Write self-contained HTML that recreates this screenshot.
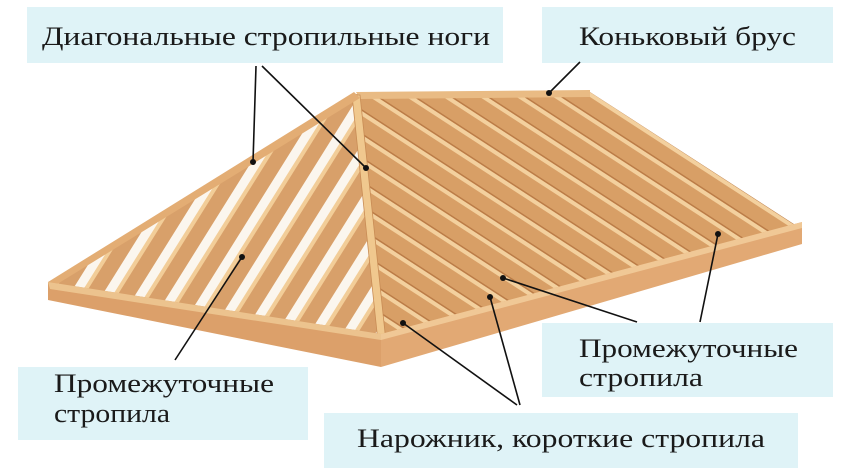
<!DOCTYPE html>
<html><head><meta charset="utf-8"><style>
html,body{margin:0;padding:0;background:#fff;width:864px;height:475px;overflow:hidden}
svg{display:block}
text{font-family:"Liberation Serif",serif;font-size:26px;fill:#1a1a1a}
</style></head><body>
<svg width="864" height="475" viewBox="0 0 864 475" xmlns="http://www.w3.org/2000/svg">
<defs>
<pattern id="rp" patternUnits="userSpaceOnUse" width="20" height="400" patternTransform="rotate(-57)">
<rect width="20" height="400" fill="#d89f66"/>
<rect x="0" width="4" height="400" fill="#f3d09e"/>
<rect x="4" width="1.5" height="400" fill="#bb7c47"/>
</pattern>
<pattern id="lp" patternUnits="userSpaceOnUse" width="28" height="400" patternTransform="rotate(32)">
<rect width="28" height="400" fill="#d8a06a"/>
<rect x="0" width="4" height="400" fill="#f2cd98"/>
<rect x="19" width="9" height="400" fill="#fbf6ee"/>
</pattern>
</defs>
<polygon points="356,94 590,92 800,228 381,340" fill="url(#rp)"/>
<polygon points="356,94 381,340 50,283" fill="url(#lp)"/>
<polygon points="356,92 590,90 590,97 360,99" fill="#e9bb84"/>
<polygon points="352,95 360,95 386,342 378,342" fill="#f0c88e" stroke="#c88c55" stroke-width="0.8"/>
<polygon points="354,92 360,98 54,286 48,282" fill="#e3ad74"/>
<polygon points="48,282 381,334 381,367 48,300" fill="#dca06a"/>
<polygon points="48,282 381,334 381,340 50,289" fill="#ecc38e"/>
<polygon points="381,334 802,222 802,244 381,367" fill="#e2a974"/>
<polygon points="381,334 802,222 802,228 381,340" fill="#f0c896"/>
<g fill="#dff3f7">
<rect x="27" y="7" width="476" height="56"/>
<rect x="542" y="7" width="291" height="56"/>
<rect x="18" y="367" width="290" height="73"/>
<rect x="542" y="323" width="291" height="74"/>
<rect x="324" y="413" width="474" height="55"/>
</g>
<text x="42" y="45" textLength="448" lengthAdjust="spacingAndGlyphs">Диагональные стропильные ноги</text>
<text x="579" y="45" textLength="217" lengthAdjust="spacingAndGlyphs">Коньковый брус</text>
<text x="54" y="392" textLength="220" lengthAdjust="spacingAndGlyphs">Промежуточные</text>
<text x="54" y="422" textLength="116" lengthAdjust="spacingAndGlyphs">стропила</text>
<text x="579" y="357" textLength="219" lengthAdjust="spacingAndGlyphs">Промежуточные</text>
<text x="579" y="386" textLength="124" lengthAdjust="spacingAndGlyphs">стропила</text>
<text x="357" y="447" textLength="408" lengthAdjust="spacingAndGlyphs">Нарожник, короткие стропила</text>
<g stroke="#111" stroke-width="1.6" fill="none">
<line x1="256" y1="66" x2="253" y2="162"/>
<line x1="262" y1="66" x2="366" y2="168"/>
<line x1="580" y1="62" x2="549" y2="93"/>
<line x1="175" y1="360" x2="242" y2="257"/>
<line x1="637" y1="322" x2="503" y2="278"/>
<line x1="700" y1="322" x2="718" y2="234"/>
<line x1="517" y1="405" x2="403" y2="323"/>
<line x1="520" y1="405" x2="490" y2="297"/>
</g>
<g fill="#111">
<circle cx="253" cy="162" r="3"/><circle cx="366" cy="168" r="3"/><circle cx="549" cy="93" r="3"/>
<circle cx="242" cy="257" r="3"/><circle cx="503" cy="278" r="3"/><circle cx="718" cy="234" r="3"/>
<circle cx="403" cy="323" r="3"/><circle cx="490" cy="297" r="3"/>
</g>
</svg>
</body></html>
